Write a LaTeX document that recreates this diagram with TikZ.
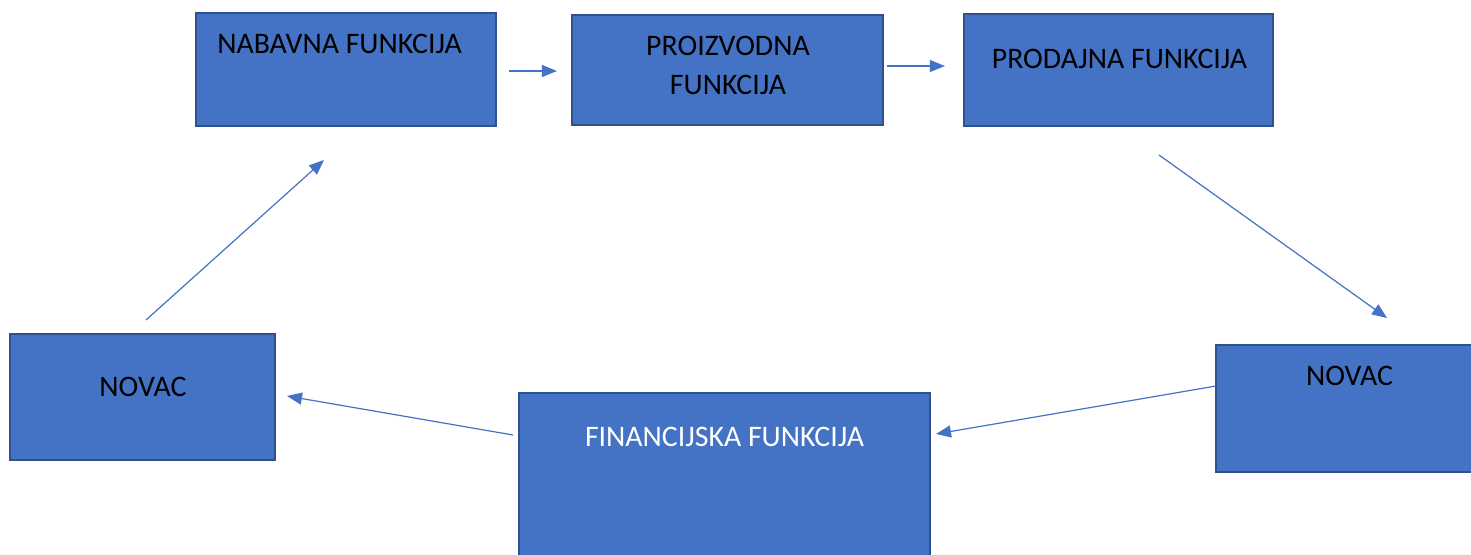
\documentclass[tikz,border=0pt]{standalone}
\usepackage{fontspec}
\setmainfont{Carlito}
\usetikzlibrary{arrows.meta}

\definecolor{boxblue}{HTML}{4472C4}
\definecolor{boxedge}{HTML}{2F528F}

\tikzset{
  funbox/.style={draw=boxedge,line width=2.2pt,fill=boxblue,inner sep=0pt},
  funtext/.style={font=\fontsize{29.8}{39}\selectfont,align=center,inner sep=0pt},
  flow/.style={draw=boxblue,line width=1.2pt,-{Triangle[length=15pt,width=12pt]}}
}

\begin{document}
\begin{tikzpicture}[x=1pt,y=-1pt]
  \clip (0,0) rectangle (1471,554);
  \fill[white] (0,0) rectangle (1471,554);

  % upper row
  \node[funbox,minimum width=300pt,minimum height=113pt] (nab) at (346,69.5) {};
  \node[funtext] (nabtxt) at (339.5,44) {NABAVNA FUNKCIJA};
  \node[funbox,minimum width=311pt,minimum height=110pt] (pro) at (727.5,70) {};
  \node[funtext] (protxt) at (728,65.5) {PROIZVODNA\\FUNKCIJA};
  \node[funbox,minimum width=309pt,minimum height=112pt] (pod) at (1118.5,70) {};
  \node[funtext] (podtxt) at (1119.5,59) {PRODAJNA FUNKCIJA};

  % lower row
  \node[funbox,minimum width=265pt,minimum height=126pt] (novl) at (142.5,397) {};
  \node[funtext] (novltxt) at (143,387) {NOVAC};
  \node[funbox,minimum width=411pt,minimum height=180pt] (fin) at (724.5,483) {};
  \node[funtext,text=white] (fintxt) at (724.5,437) {FINANCIJSKA FUNKCIJA};
  \node[funbox,minimum width=265pt,minimum height=127pt] (novd) at (1348.5,408.5) {};
  \node[funtext] (novdtxt) at (1349.5,376) {NOVAC};

  % free arrow ends
  \coordinate (a1) at (1159,155);
  \coordinate (a2) at (1387,318);
  \coordinate (b1) at (1216,386);
  \coordinate (b2) at (936,434);
  \coordinate (c1) at (513,435);
  \coordinate (c2) at (287,396);
  \coordinate (d1) at (146,320);
  \coordinate (d2) at (324,160);

  \draw[flow,shorten <=12pt,shorten >=14pt] (nab.east |- 0,71) -- (pro.west |- 0,71);
  \draw[flow,shorten <=3pt,shorten >=18pt] (pro.east |- 0,66) -- (pod.west |- 0,66);
  \draw[flow] (a1) -- (a2);
  \draw[flow] (b1) -- (b2);
  \draw[flow] (c1) -- (c2);
  \draw[flow] (d1) -- (d2);
\end{tikzpicture}
\end{document}
